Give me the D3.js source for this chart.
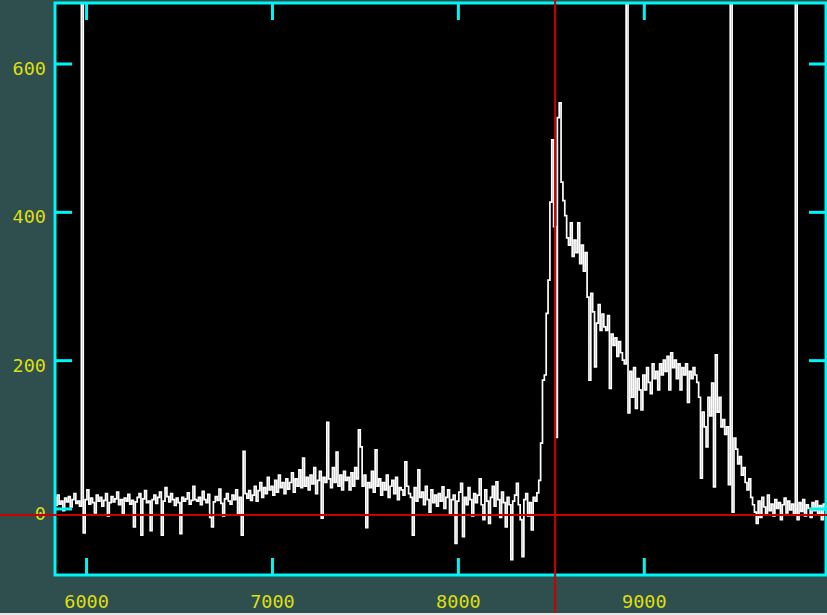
<!DOCTYPE html>
<html>
<head>
<meta charset="utf-8">
<script src="https://cdn.jsdelivr.net/npm/d3@7/dist/d3.min.js"></script>
<style>
  html, body { margin: 0; padding: 0; background: #2f4f4f; overflow: hidden; }
  svg { display: block; }
</style>
</head>
<body>
<script>
// Spectrum sampled on a regular 10 Å grid starting at 5800 Å (flux in counts)
const wavelengthStart = 5800;
const wavelengthStep = 10;
const flux = [
  // 5800
  5, 8, 12, 15, 4, 18, 6, 10, -3, 14,
  // 5900
  9, 16, 2, 12, 20, 7, 10, 3, 2400, -33,
  // 6000
  12, 25, 6, 14, 8, -6, 18, 10, 15, 3,
  // 6100
  11, 20, -10, 8, 16, 9, 13, 22, 5, 12,
  // 6200
  -8, 14, 10, 19, 6, 11, -25, 9, 15, 20,
  // 6300
  -36, 13, 24, 8, 10, -30, 12, 18, 7, 15,
  // 6400
  22, -36, 10, 28, 16, 9, 20, 12, 4, 14,
  // 6500
  8, -34, 15, 10, 13, 21, 6, 11, 30, 12,
  // 6600
  10, 15, 5, 23, 12, 8, 19, -12, -25, 9,
  // 6700
  16, 11, 26, 7, -10, 13, 20, 10, 6, 18,
  // 6800
  12, 25, -8, 15, -36, 77, 20, 14, 24, 11,
  // 6900
  18, 30, 10, 24, 35, 15, 28, 20, 42, 25,
  // 7000
  30, 18, 38, 22, 45, 28, 35, 20, 40, 26,
  // 7100
  35, 48, 22, 40, 30, 52, 28, 68, 30, 42,
  // 7200
  25, 45, 33, 55, 20, 38, 50, -13, 42, 35,
  // 7300
  116, 40, 28, 55, 35, 76, 30, 45, 25, 50,
  // 7400
  38, 42, 25, 48, 30, 55, 40, 106, 83, 30,
  // 7500
  45, -26, 35, 28, 50, 22, 79, 30, 40, 18,
  // 7600
  35, 25, 45, 15, 30, 38, 20, 42, 12, 28,
  // 7700
  25, 18, 63, 30, 20, 15, -36, 28, 10, 52,
  // 7800
  15, 22, 5, 30, 12, -5, 25, 8, 18, 3,
  // 7900
  20, 10, 29, 0, 15, 25, -8, 12, 18, -47,
  // 8000
  10, 22, 34, -38, 15, 5, 28, 12, -10, 20,
  // 8100
  8, 18, 40, 5, -15, 25, 10, -20, 15, 30,
  // 8200
  3, 36, 12, -12, 22, 8, -25, 15, 5, -69,
  // 8300
  10, 18, 34, 5, -15, -65, 12, 20, -10, 8,
  // 8400
  -29, 15, 10, 21, 38, 88, 173, 180, 263, 308,
  // 8500
  413, 497, 380, 96, 527, 547, 440, 415, 395, 365,
  // 8600
  355, 385, 340, 362, 345, 385, 330, 355, 320, 345,
  // 8700
  285, 173, 290, 265, 191, 250, 275, 240, 262, 245,
  // 8800
  240, 260, 162, 235, 220, 230, 205, 225, 210, 200,
  // 8900
  195, 3000, 129, 185, 150, 190, 135, 175, 160, 133,
  // 9000
  180, 160, 190, 170, 155, 195, 175, 185, 160, 195,
  // 9100
  180, 200, 185, 205, 160, 210, 190, 200, 175, 195,
  // 9200
  160, 190, 180, 195, 143, 185, 175, 190, 180, 170,
  // 9300
  150, 41, 130, 110, 83, 150, 125, 169, 29, 207,
  // 9400
  130, 150, 110, 120, 100, 110, 32, 3000, -5, 95,
  // 9500
  80, 60, 70, 45, 55, 35, 25, 40, 15, 5,
  // 9600
  -5, -20, 10, -12, 15, 2, -8, 18, -3, 6,
  // 9700
  -10, 12, 0, 8, -15, 5, 14, -6, 10, -2,
  // 9800
  6, -8, 3000, -15, 8, -4, 12, -10, 5, 0,
  // 9900
  -12, 8, -3, 10, -8, 4, -15, 6, -2, 3
];
const wavelengths = flux.map((_, i) => wavelengthStart + i * wavelengthStep);

const xTicks = [6000, 7000, 8000, 9000];
const yTicks = [0, 200, 400, 600];
const xDomain = [5833, 9980];
const yDomain = [-89.7, 681.6];

// Crosshair cursor position
const cursorWavelength = 8523;
const cursorFlux = -8.8;

const W = 827, H = 615;
const frame = { left: 55, right: 826, top: 3, bottom: 575 };

const COLORS = {
  bg: "#2f4f4f",
  plot: "#000000",
  axis: "#00f5f5",
  label: "#dede10",
  data: "#ffffff",
  cursor: "#cc0000"
};

const svg = d3.select("body").append("svg")
  .attr("width", W).attr("height", H);

svg.append("rect").attr("width", W).attr("height", H).attr("fill", COLORS.bg);

const x = d3.scaleLinear().domain(xDomain).range([frame.left, frame.right]);
const y = d3.scaleLinear().domain(yDomain).range([frame.bottom, frame.top]);

svg.append("rect")
  .attr("x", frame.left).attr("y", frame.top)
  .attr("width", frame.right - frame.left).attr("height", frame.bottom - frame.top)
  .attr("fill", COLORS.plot);

svg.append("clipPath").attr("id", "plot-clip")
  .append("rect")
  .attr("x", frame.left).attr("y", frame.top)
  .attr("width", frame.right - frame.left).attr("height", frame.bottom - frame.top);

// Spectrum trace, drawn as a histogram-style step line
const line = d3.line()
  .x((d, i) => x(wavelengths[i]))
  .y(d => y(d))
  .curve(d3.curveStep);

svg.append("path")
  .datum(flux)
  .attr("clip-path", "url(#plot-clip)")
  .attr("fill", "none")
  .attr("stroke", COLORS.data)
  .attr("stroke-width", 1.7)
  .attr("d", line);

// Frame and inward-pointing ticks
const tickLen = 17;
const styleAxis = g => {
  g.select(".domain").remove();
  g.selectAll(".tick line").attr("stroke", COLORS.axis).attr("stroke-width", 3);
  g.selectAll("text")
    .attr("fill", COLORS.label)
    .attr("font-family", "'DejaVu Sans Mono', monospace")
    .attr("font-size", 18.5);
};

svg.append("g")
  .attr("transform", `translate(0,${frame.bottom})`)
  .call(d3.axisBottom(x).tickValues(xTicks).tickSize(-tickLen).tickFormat(d3.format("d")))
  .call(styleAxis)
  .call(g => g.selectAll("text").attr("y", 33).attr("dy", null));

svg.append("g")
  .attr("transform", `translate(0,${frame.top})`)
  .call(d3.axisTop(x).tickValues(xTicks).tickSize(-tickLen).tickFormat(""))
  .call(styleAxis);

svg.append("g")
  .attr("transform", `translate(${frame.left},0)`)
  .call(d3.axisLeft(y).tickValues(yTicks).tickSize(-tickLen).tickFormat(d3.format("d")))
  .call(styleAxis)
  .call(g => g.selectAll("text").attr("x", -9).attr("dy", null).attr("y", 11));

svg.append("g")
  .attr("transform", `translate(${frame.right},0)`)
  .call(d3.axisRight(y).tickValues(yTicks).tickSize(-tickLen).tickFormat(""))
  .call(styleAxis);

svg.append("rect")
  .attr("x", frame.left).attr("y", frame.top)
  .attr("width", frame.right - frame.left).attr("height", frame.bottom - frame.top)
  .attr("fill", "none")
  .attr("stroke", COLORS.axis)
  .attr("stroke-width", 3);

// Crosshair spans the whole window
svg.append("line")
  .attr("x1", x(cursorWavelength)).attr("x2", x(cursorWavelength))
  .attr("y1", 0).attr("y2", H)
  .attr("stroke", COLORS.cursor).attr("stroke-width", 2);
svg.append("line")
  .attr("x1", 0).attr("x2", W)
  .attr("y1", y(cursorFlux)).attr("y2", y(cursorFlux))
  .attr("stroke", COLORS.cursor).attr("stroke-width", 2);

// Window edge strip
svg.append("rect").attr("x", 0).attr("y", 613).attr("width", W).attr("height", 2).attr("fill", "#e8e8e8");
</script>
</body>
</html>
